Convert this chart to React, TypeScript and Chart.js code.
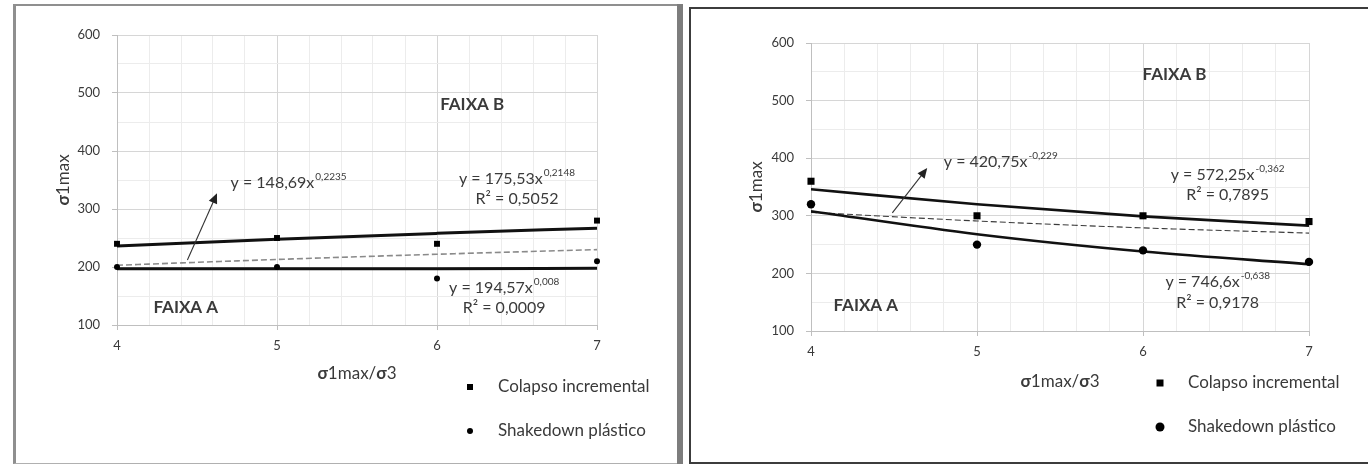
import React, { useEffect, useRef } from "react";
import { Chart, registerables } from "chart.js";

Chart.register(...registerables);

// ---------- data ----------
const xValues = [4, 5, 6, 7];
const xTickLabels = ["4", "5", "6", "7"];
const yTickLabels = ["100", "200", "300", "400", "500", "600"];
const legendLabels = ["Colapso incremental", "Shakedown plástico"];
const xTitle = "σ1max/σ3";
const yTitle = "σ1max";

// left panel
const leftColapso = [240, 250, 240, 280];
const leftShakedown = [200, 200, 180, 210];
const leftTrendColapso = [236, 248, 258, 267];
const leftTrendShakedown = [197, 197, 197, 198];
const leftTrendDashed = [203, 213, 222, 230];

// right panel
const rightColapso = [360, 300, 300, 290];
const rightShakedown = [320, 250, 240, 220];
const rightTrendColapso = [346, 320, 299, 283];
const rightTrendShakedown = [308, 268, 238, 216];
const rightTrendDashed = [306, 291, 279, 270];

const FONT = 'Lato, "Open Sans", "DejaVu Sans", sans-serif';
const TEXT = "#3a3a3a";

type Ann = {
  x: number;
  y: number;
  text: string;
  sup?: string;
  align: "left" | "center";
  bold?: boolean;
  size: number;
};

type PanelSpec = {
  canvas: { left: number; top: number; width: number; height: number };
  pad: { top: number; right: number };
  yAxisWidth: number;
  xAxisHeight: number;
  colapso: number[];
  shakedown: number[];
  trendColapso: number[];
  trendShakedown: number[];
  trendDashed: number[];
  squareR: number;
  circleR: number;
  lineWidth: number;
  dashColor: string;
  dashWidth: number;
  anns: Ann[];
  arrow: { from: [number, number]; to: [number, number] };
  yTitleDx: number;
  xTitleDy: number;
  legend: { dx: number; dy: number; gap: number; textDx: number; sq: number; cr: number };
};

const leftSpec: PanelSpec = {
  canvas: { left: 16, top: 6, width: 660, height: 455 },
  pad: { top: 29, right: 79 },
  yAxisWidth: 101,
  xAxisHeight: 136,
  colapso: leftColapso,
  shakedown: leftShakedown,
  trendColapso: leftTrendColapso,
  trendShakedown: leftTrendShakedown,
  trendDashed: leftTrendDashed,
  squareR: 4.2,
  circleR: 3,
  lineWidth: 3,
  dashColor: "#8a8a8a",
  dashWidth: 1.6,
  anns: [
    { x: 6.22, y: 481, text: "FAIXA B", align: "center", bold: true, size: 17 },
    { x: 4.43, y: 131, text: "FAIXA A", align: "center", bold: true, size: 17 },
    { x: 4.71, y: 345, text: "y = 148,69x", sup: "0,2235", align: "left", size: 16 },
    { x: 6.5, y: 352, text: "y = 175,53x", sup: "0,2148", align: "center", size: 16 },
    { x: 6.5, y: 318, text: "R² = 0,5052", align: "center", size: 16 },
    { x: 6.42, y: 164, text: "y = 194,57x", sup: "0,008", align: "center", size: 16 },
    { x: 6.42, y: 129, text: "R² = 0,0009", align: "center", size: 16 },
  ],
  arrow: { from: [4.44, 212], to: [4.625, 327] },
  yTitleDx: 53,
  xTitleDy: 49,
  legend: { dx: 127, dy: 62, gap: 44, textDx: 28, sq: 6, cr: 3 },
};

const rightSpec: PanelSpec = {
  canvas: { left: 691, top: 9, width: 677, height: 452 },
  pad: { top: 34, right: 59 },
  yAxisWidth: 120,
  xAxisHeight: 130,
  colapso: rightColapso,
  shakedown: rightShakedown,
  trendColapso: rightTrendColapso,
  trendShakedown: rightTrendShakedown,
  trendDashed: rightTrendDashed,
  squareR: 5,
  circleR: 4.2,
  lineWidth: 2.6,
  dashColor: "#3a3a3a",
  dashWidth: 1.1,
  anns: [
    { x: 6.19, y: 546, text: "FAIXA B", align: "center", bold: true, size: 17 },
    { x: 4.33, y: 145, text: "FAIXA A", align: "center", bold: true, size: 17 },
    { x: 4.8, y: 393, text: "y = 420,75x", sup: "-0,229", align: "left", size: 16 },
    { x: 6.51, y: 371, text: "y = 572,25x", sup: "-0,362", align: "center", size: 16 },
    { x: 6.51, y: 336, text: "R² = 0,7895", align: "center", size: 16 },
    { x: 6.45, y: 185, text: "y = 746,6x", sup: "-0,638", align: "center", size: 16 },
    { x: 6.45, y: 149, text: "R² = 0,9178", align: "center", size: 16 },
  ],
  arrow: { from: [4.49, 305], to: [4.7, 383] },
  yTitleDx: 54,
  xTitleDy: 51,
  legend: { dx: 149, dy: 52, gap: 44, textDx: 28, sq: 7, cr: 4.5 },
};

function pts(ys: number[]) {
  return xValues.map((x, i) => ({ x, y: ys[i] }));
}

function drawRich(ctx: CanvasRenderingContext2D, x: number, y: number, a: Ann) {
  const f = `${a.bold ? "bold " : ""}${a.size}px ${FONT}`;
  const fs = `${Math.round(a.size * 0.64)}px ${FONT}`;
  ctx.font = f;
  const w1 = ctx.measureText(a.text).width;
  let w2 = 0;
  if (a.sup) {
    ctx.font = fs;
    w2 = ctx.measureText(a.sup).width + 1;
  }
  const total = w1 + w2;
  const sx = a.align === "center" ? x - total / 2 : x;
  ctx.textAlign = "left";
  ctx.textBaseline = "middle";
  ctx.fillStyle = TEXT;
  ctx.font = f;
  ctx.fillText(a.text, sx, y);
  if (a.sup) {
    ctx.font = fs;
    ctx.fillText(a.sup, sx + w1 + 1, y - a.size * 0.38);
  }
}

function drawSigmaText(ctx: CanvasRenderingContext2D, text: string, cx: number, cy: number, size: number) {
  const parts = Array.from(text).map((ch) => ({ ch, bold: ch === "σ" }));
  let total = 0;
  const widths: number[] = [];
  for (const p of parts) {
    ctx.font = `${p.bold ? "bold " : ""}${size}px ${FONT}`;
    const w = ctx.measureText(p.ch).width;
    widths.push(w);
    total += w;
  }
  let x = cx - total / 2;
  ctx.textAlign = "left";
  ctx.textBaseline = "middle";
  ctx.fillStyle = TEXT;
  parts.forEach((p, i) => {
    ctx.font = `${p.bold ? "bold " : ""}${size}px ${FONT}`;
    ctx.fillText(p.ch, x, cy);
    x += widths[i];
  });
}

function overlayPlugin(spec: PanelSpec) {
  return {
    id: "overlay",
    afterDraw(chart: any) {
      const ctx: CanvasRenderingContext2D = chart.ctx;
      const xs = chart.scales.x;
      const ys = chart.scales.y;
      const ca = chart.chartArea;
      ctx.save();

      // arrow
      const x0 = xs.getPixelForValue(spec.arrow.from[0]);
      const y0 = ys.getPixelForValue(spec.arrow.from[1]);
      const x1 = xs.getPixelForValue(spec.arrow.to[0]);
      const y1 = ys.getPixelForValue(spec.arrow.to[1]);
      const ang = Math.atan2(y1 - y0, x1 - x0);
      const hl = 10;
      const hw = 4.5;
      ctx.strokeStyle = "#333";
      ctx.lineWidth = 1.1;
      ctx.beginPath();
      ctx.moveTo(x0, y0);
      ctx.lineTo(x1 - Math.cos(ang) * hl * 0.8, y1 - Math.sin(ang) * hl * 0.8);
      ctx.stroke();
      ctx.fillStyle = "#222";
      ctx.beginPath();
      ctx.moveTo(x1, y1);
      const bx = x1 - Math.cos(ang) * hl;
      const by = y1 - Math.sin(ang) * hl;
      ctx.lineTo(bx + Math.cos(ang + Math.PI / 2) * hw, by + Math.sin(ang + Math.PI / 2) * hw);
      ctx.lineTo(bx - Math.cos(ang + Math.PI / 2) * hw, by - Math.sin(ang + Math.PI / 2) * hw);
      ctx.closePath();
      ctx.fill();

      // annotations
      for (const a of spec.anns) {
        drawRich(ctx, xs.getPixelForValue(a.x), ys.getPixelForValue(a.y), a);
      }

      // axis titles
      drawSigmaText(ctx, xTitle, (ca.left + ca.right) / 2, ca.bottom + spec.xTitleDy, 17);
      ctx.save();
      ctx.translate(ca.left - spec.yTitleDx, (ca.top + ca.bottom) / 2);
      ctx.rotate(-Math.PI / 2);
      drawSigmaText(ctx, yTitle, 0, 0, 17);
      ctx.restore();

      // legend
      const lg = spec.legend;
      const mx = ca.right - lg.dx;
      const my1 = ca.bottom + lg.dy;
      const my2 = my1 + lg.gap;
      ctx.fillStyle = "#000";
      ctx.fillRect(mx - lg.sq / 2, my1 - lg.sq / 2, lg.sq, lg.sq);
      ctx.beginPath();
      ctx.arc(mx, my2, lg.cr, 0, Math.PI * 2);
      ctx.fill();
      ctx.font = `17px ${FONT}`;
      ctx.fillStyle = TEXT;
      ctx.textAlign = "left";
      ctx.textBaseline = "middle";
      ctx.fillText(legendLabels[0], mx + lg.textDx, my1);
      ctx.fillText(legendLabels[1], mx + lg.textDx, my2);

      ctx.restore();
    },
  };
}

function makeConfig(spec: PanelSpec): any {
  const isMajorX = (v: number) => Math.abs(v - Math.round(v)) < 1e-6;
  const isMajorY = (v: number) => Math.abs(v % 100) < 1e-6;
  return {
    type: "scatter",
    data: {
      datasets: [
        {
          label: legendLabels[0],
          data: pts(spec.colapso),
          pointStyle: "rect",
          pointRadius: spec.squareR,
          backgroundColor: "#000",
          borderColor: "#000",
          borderWidth: 0,
          order: 0,
          clip: false,
        },
        {
          label: legendLabels[1],
          data: pts(spec.shakedown),
          pointStyle: "circle",
          pointRadius: spec.circleR,
          backgroundColor: "#000",
          borderColor: "#000",
          borderWidth: 0,
          order: 0,
          clip: false,
        },
        {
          label: "trend colapso",
          data: pts(spec.trendColapso),
          showLine: true,
          pointRadius: 0,
          borderColor: "#111",
          borderWidth: spec.lineWidth,
          cubicInterpolationMode: "monotone",
          order: 1,
        },
        {
          label: "trend shakedown",
          data: pts(spec.trendShakedown),
          showLine: true,
          pointRadius: 0,
          borderColor: "#111",
          borderWidth: spec.lineWidth,
          cubicInterpolationMode: "monotone",
          order: 1,
        },
        {
          label: "limite",
          data: pts(spec.trendDashed),
          showLine: true,
          pointRadius: 0,
          borderColor: spec.dashColor,
          borderWidth: spec.dashWidth,
          borderDash: [6, 3],
          cubicInterpolationMode: "monotone",
          order: 2,
        },
      ],
    },
    options: {
      responsive: false,
      animation: false,
      events: [],
      layout: { padding: { top: spec.pad.top, right: spec.pad.right, left: 0, bottom: 0 } },
      plugins: { legend: { display: false }, tooltip: { enabled: false }, title: { display: false } },
      scales: {
        x: {
          type: "linear",
          min: 4,
          max: 7,
          afterFit: (s: any) => {
            s.height = spec.xAxisHeight;
          },
          ticks: {
            stepSize: 0.2,
            autoSkip: false,
            maxRotation: 0,
            padding: 8,
            color: TEXT,
            font: { family: FONT, size: 13 },
            callback: (v: number) => {
              const r = Math.round(v);
              return isMajorX(v) && xTickLabels.includes(String(r)) ? String(r) : "";
            },
          },
          grid: {
            color: (c: any) => (c.tick && isMajorX(c.tick.value) ? "#d6d6d6" : "#ececec"),
            tickColor: (c: any) => (c.tick && isMajorX(c.tick.value) ? "#bfbfbf" : "rgba(0,0,0,0)"),
            tickLength: 5,
            lineWidth: 1,
          },
          border: { display: true, color: "#bfbfbf", width: 1 },
        },
        y: {
          type: "linear",
          min: 100,
          max: 600,
          afterFit: (s: any) => {
            s.width = spec.yAxisWidth;
          },
          ticks: {
            stepSize: 50,
            autoSkip: false,
            padding: 12,
            color: TEXT,
            font: { family: FONT, size: 13 },
            callback: (v: number) => (isMajorY(v) && yTickLabels.includes(String(v)) ? String(v) : ""),
          },
          grid: {
            color: (c: any) => (c.tick && isMajorY(c.tick.value) ? "#d6d6d6" : "#ececec"),
            tickColor: (c: any) => (c.tick && isMajorY(c.tick.value) ? "#bfbfbf" : "rgba(0,0,0,0)"),
            tickLength: 5,
            lineWidth: 1,
          },
          border: { display: true, color: "#bfbfbf", width: 1 },
        },
      },
    },
    plugins: [overlayPlugin(spec)],
  };
}

function Panel({ spec }: { spec: PanelSpec }) {
  const ref = useRef<HTMLCanvasElement | null>(null);
  useEffect(() => {
    if (!ref.current) return;
    const chart = new Chart(ref.current, makeConfig(spec));
    return () => chart.destroy();
  }, [spec]);
  const c = spec.canvas;
  return (
    <canvas
      ref={ref}
      width={c.width}
      height={c.height}
      style={{ position: "absolute", left: c.left, top: c.top, width: c.width, height: c.height }}
    />
  );
}

export default function App() {
  return (
    <div
      style={{
        position: "fixed",
        left: 0,
        top: 0,
        width: 1368,
        height: 464,
        background: "#fff",
        overflow: "hidden",
      }}
    >
      {/* left frame */}
      <div
        style={{
          position: "absolute",
          left: 13,
          top: 4,
          width: 662,
          height: 457,
          borderTop: "2px solid #8f8f8f",
          borderLeft: "3px solid #8f8f8f",
          borderRight: "1px solid #c4c4c4",
          borderBottom: "1px solid #b0b0b0",
        }}
      />
      <div style={{ position: "absolute", left: 677, top: 4, width: 6, height: 460, background: "#7d7d7d" }} />
      {/* right frame */}
      <div
        style={{
          position: "absolute",
          left: 689,
          top: 7,
          width: 700,
          height: 453,
          border: "2px solid #3c3c3c",
        }}
      />
      <Panel spec={leftSpec} />
      <Panel spec={rightSpec} />
    </div>
  );
}
